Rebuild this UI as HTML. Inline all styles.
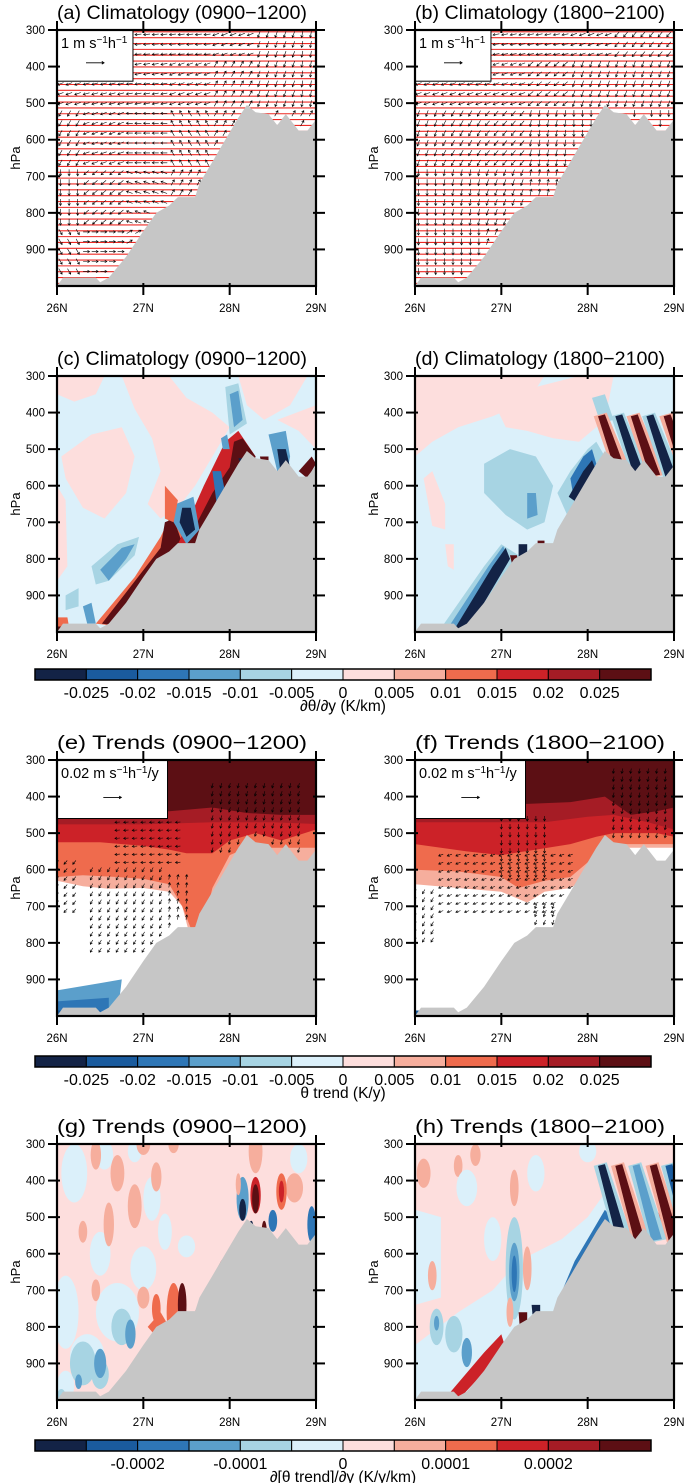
<!DOCTYPE html>
<html><head><meta charset="utf-8">
<style>
html,body{margin:0;padding:0;background:#fff;}
svg{display:block;font-family:"Liberation Sans",Arial,sans-serif;}
</style></head>
<body>
<svg id="fig" width="685" height="1483" viewBox="0 0 685 1483" xmlns="http://www.w3.org/2000/svg"></svg>
<script>
// ---------- data ----------
const levelColors = ['#132346','#1a5b9e','#2e76b6','#5b9fcb','#a7d4e3','#dbf0fa','#fddedd','#f6ae9d','#ef6b4d','#cc2228','#a51c25','#5c0f14'];
const cb1Labels = ['-0.025','-0.02','-0.015','-0.01','-0.005','0','0.005','0.01','0.015','0.02','0.025'];
const cb3Labels = ['','-0.0002','','-0.0001','','0','','0.0001','','0.0002',''];
const yTicks = [300,400,500,600,700,800,900];
const xTicks = [26,27,28,29];
const terrainLat = [26.0,26.07,26.45,26.5,26.6,26.8,27.0,27.15,27.3,27.4,27.45,27.6,27.65,27.8,27.95,28.1,28.2,28.3,28.45,28.55,28.65,28.8,28.9,29.0];
const terrainP   = [1000,977,977,990,977,920,850,800,780,757,757,757,720,660,600,540,505,525,530,560,530,575,575,545];
const arrowRowP = [300,450,600,750,900];
const arrowColLat = [26,26.5,27,27.5,28,28.5,29];
const arrowsA = [[190,190,185,185,200,250,260],[200,195,190,200,60,250,260],[240,200,180,120,60,60,60],[270,220,160,60,60,60,60],[300,0,30,45,45,45,45]];
const arrowsB = [[190,190,190,190,200,230,230],[200,200,200,220,250,250,250],[250,240,230,260,270,270,270],[270,260,250,80,80,80,80],[270,270,70,70,70,70,70]];
const shapesC = [
 [6,26.0,300,26.55,300,26.45,350,26.2,370,26.0,350],
 [6,26.75,300,27.3,300,27.5,360,27.8,400,28.0,440,27.8,520,27.6,600,27.4,660,27.2,690,27.05,650,27.2,560,27.1,470,26.9,390],
 [6,26.05,520,26.4,460,26.75,440,26.9,520,26.8,620,26.55,690,26.3,660,26.1,580],
 [6,26.0,600,26.1,640,26.12,820,26.0,860],
 [6,28.1,300,28.9,300,28.7,380,28.4,420,28.2,380],
 [6,28.55,420,29.0,380,29.0,500,28.8,450],
 [4,26.4,820,26.7,760,26.95,740,26.9,790,26.6,860,26.45,870],
 [3,26.5,830,26.75,770,26.9,760,26.8,800,26.6,860],
 [4,26.1,900,26.25,880,26.25,930,26.1,940],
 [3,26.3,930,26.4,920,26.45,977,26.35,977],
 [8,26.0,960,26.12,960,26.15,1000,26.0,1000],
 [11,26.0,985,26.07,985,26.07,1000,26.0,1000],
 [8,26.45,977,26.9,850,27.2,740,27.3,690,27.45,680,27.5,757,26.9,990],
 [11,26.52,977,27.2,770,27.25,700,27.35,690,27.45,757,26.9,990],
 [9,27.4,760,27.7,600,27.95,480,28.1,450,28.3,520,27.7,800],
 [11,27.5,757,27.8,620,28.0,550,28.05,480,28.15,470,28.3,520,28.0,700,27.7,800],
 [3,27.38,650,27.58,630,27.65,720,27.5,760,27.35,700],
 [0,27.45,660,27.55,660,27.6,720,27.5,740,27.42,700],
 [2,27.8,560,27.9,560,27.95,620,27.85,650],
 [8,27.25,600,27.4,640,27.35,700,27.25,690],
 [4,27.95,330,28.1,320,28.2,430,28.0,460],
 [3,28.0,350,28.1,340,28.15,420,28.05,440],
 [3,27.9,470,27.97,460,28.0,500,27.92,500],
 [0,28.1,525,28.3,525,28.3,550,28.15,550],
 [11,28.35,520,28.45,520,28.45,560,28.38,550],
 [3,28.45,460,28.65,450,28.7,520,28.65,580,28.55,560],
 [0,28.55,500,28.65,500,28.72,570,28.6,580],
 [11,28.8,560,28.95,520,29.0,540,28.9,580]
];
const shapesD = [
 [6,26.0,300,27.5,300,27.3,370,26.9,410,26.5,440,26.2,480,26.0,520],
 [6,26.95,390,27.4,330,27.9,300,28.3,300,28.2,420,27.9,480,27.6,470,27.3,450,27.05,440],
 [6,26.1,580,26.2,560,26.35,650,26.35,720,26.2,710],
 [6,26.35,760,26.45,760,26.45,830,26.38,820],
 [4,26.8,540,27.1,500,27.4,520,27.6,600,27.5,700,27.3,720,27.05,680,26.8,620],
 [3,27.3,620,27.4,620,27.42,680,27.3,690],
 [4,26.3,990,26.8,820,27.0,760,27.2,790,26.6,1000],
 [3,26.38,990,26.85,820,27.02,765,27.1,800,26.6,1000],
 [0,26.45,995,26.9,820,27.05,770,27.1,800,26.6,1000],
 [11,27.1,790,27.18,790,27.22,830,27.15,840],
 [0,27.2,760,27.3,760,27.3,810,27.2,810],
 [11,27.42,750,27.5,750,27.5,790,27.42,780],
 [4,27.65,620,27.8,560,28.0,500,28.1,480,28.2,520,27.8,700],
 [2,27.8,580,27.95,520,28.05,500,28.1,540,27.85,650],
 [0,27.78,630,27.95,560,28.05,530,28.1,560,27.9,650],
 [4,28.05,360,28.2,350,28.3,420,28.15,430]
];
const stripeLatD = [28.12,28.32,28.5,28.68,28.88];
const stripeLvlD = [11,0,11,0,11];
const stripeLatH = [28.12,28.32,28.52,28.72,28.9];
const stripeLvlH = [0,11,3,11,1];
const bandLvls = [7,8,9,10,11];
const bandsE = [
 [26,630,26.3,645,26.6,652,27.0,650,27.3,660,27.45,700,27.55,790,27.65,760,27.8,700,29,700],
 [26,620,26.3,615,26.7,620,27.0,625,27.3,640,27.45,700,27.55,760,27.7,750,27.8,650,28,560,28.2,540,29,540],
 [26,525,26.5,525,27.0,535,27.3,545,27.5,555,27.8,555,28.0,520,28.3,500,28.6,520,29,490],
 [26,476,27,476,27.8,470,28.0,470,28.5,470,29,475],
 [26,440,27.3,440,27.8,430,28.2,445,28.6,450,29,450]
];
const bandsF = [
 [26,640,26.5,650,27.0,660,27.3,690,27.5,660,27.8,650,28.0,620,28.3,540,29,540],
 [26,600,26.5,605,27.0,620,27.2,650,27.5,630,27.8,620,28.1,560,28.3,530,29,530],
 [26,530,26.6,550,27.0,560,27.4,545,27.8,530,28.1,510,28.3,500,28.8,500,29,510],
 [26,470,27.5,470,28.0,455,28.3,450,28.7,470,29,490],
 [26,420,27.3,420,27.8,415,28.2,400,28.5,450,28.8,440,29,430]
];
const shapesE = [
 [3,26,930,26.5,910,26.75,900,26.7,1000,26,1000],
 [2,26,960,26.6,950,26.6,1000,26,1000],
 [1,26,985,26.5,985,26.5,1000,26,1000]
];
const shapesF = [[1,26,985,26.12,985,26.12,1000,26,1000]];
const arrowRegE = [[26.7,27.5,470,600,185],[27.8,28.9,370,560,255],[26.0,26.3,580,720,230],[26.4,27.3,600,830,240],[27.3,27.6,620,780,80]];
const arrowRegF = [[26.3,27.9,560,730,200],[28.3,29.0,330,520,260],[26.0,26.3,660,800,240],[27.0,27.6,460,620,270],[27.4,27.8,700,800,250]];
const blobsG = [
 [26.2,380,0.15,80,5],[26.55,330,0.1,40,5],[26.5,600,0.12,60,5],[26.1,760,0.15,100,5],[26.35,880,0.2,60,5],[26.9,320,0.08,30,5],[27.1,450,0.1,60,5],[27.0,640,0.15,60,5],[27.25,540,0.08,50,5],[26.7,760,0.25,80,5],[28.3,330,0.06,30,5],[28.8,340,0.1,40,5],[26.1,960,0.1,40,5],[27.5,580,0.1,30,5],
 [26.45,330,0.06,40,7],[26.7,380,0.08,50,7],[27.0,300,0.08,30,7],[27.35,300,0.06,25,7],[26.6,520,0.06,60,7],[26.9,470,0.08,60,7],[27.15,390,0.06,40,7],[28.3,320,0.08,60,7],[28.75,420,0.1,40,7],[26.3,540,0.05,30,7],[26.45,700,0.05,30,7],[27.0,720,0.07,30,7],
 [26.3,900,0.15,60,4],[26.75,800,0.12,50,4],[26.05,990,0.05,20,4],[26.5,930,0.1,40,4],
 [26.5,900,0.07,40,3],[26.85,820,0.06,40,3],[26.25,950,0.04,20,3],
 [27.15,750,0.05,40,8],[27.35,760,0.08,80,8],[27.45,740,0.05,60,11],[27.2,810,0.03,30,0],
 [28.15,450,0.07,60,3],[28.15,480,0.04,30,0],[28.3,440,0.06,50,9],[28.3,450,0.04,40,11],[28.25,540,0.03,30,0],[28.4,540,0.03,30,11],[28.5,510,0.05,30,2],[28.6,430,0.06,50,8],[28.6,430,0.03,30,9],[28.95,520,0.05,50,2],[28.1,410,0.03,30,7]
];
const shapesG = [[9,27.6,757,27.9,620,28.05,580,28.1,600,27.8,760],[8,27.05,800,27.2,760,27.3,800,27.2,840]];
const shapesH = [
 [5,26.0,850,26.5,760,26.9,700,27.2,620,27.7,560,28.0,500,28.3,400,28.3,560,27.5,900,26.7,1000,26.0,1000],
 [5,26.0,480,26.3,500,26.3,720,26.0,740],
 [2,27.6,760,27.85,620,28.05,540,28.2,480,28.35,520,27.95,780],
 [0,27.75,760,27.9,620,28.1,540,28.2,510,28.3,520,27.95,760],
 [9,26.35,995,26.8,870,27.0,820,27.05,860,26.5,1000],
 [11,27.2,760,27.3,760,27.3,820,27.22,820],[0,27.35,740,27.45,740,27.45,790,27.37,790]
];
const blobsH = [
 [27.15,640,0.1,140,4],[27.15,650,0.06,80,3],[27.15,655,0.03,50,2],[26.45,820,0.1,50,4],[26.25,800,0.08,50,4],[26.25,790,0.03,20,3],[26.6,870,0.06,40,3],
 [26.1,380,0.08,40,7],[26.5,360,0.05,30,7],[26.7,330,0.06,30,7],[27.15,420,0.05,50,7],[26.2,660,0.05,40,7],[27.3,640,0.05,60,7],[27.1,760,0.04,40,7],
 [26.6,420,0.12,50,5],[27.4,380,0.1,50,5],[28.0,320,0.1,30,5],[26.9,560,0.1,60,5],[28.9,480,0.08,40,9]
];

// ---------- geometry ----------
const svg = document.getElementById('fig');
const NS = 'http://www.w3.org/2000/svg';
const colX = [57,415], W = 259, rowTop = [30,376,760,1144], H = 256;
function mk(tag, attrs, parent){const e=document.createElementNS(NS,tag);for(const k in attrs)e.setAttribute(k,attrs[k]);(parent||svg).appendChild(e);return e;}
function axes(c,r){const x0=colX[c],y0=rowTop[r];return{X:lat=>x0+(lat-26)/3*W,Y:p=>y0+(p-300)/700*H,x0,y0};}
function poly(ax,flat,g,fill,name){let pts=[];for(let i=0;i<flat.length;i+=2)pts.push(ax.X(flat[i]).toFixed(1)+','+ax.Y(flat[i+1]).toFixed(1));
 const e=mk('polygon',{points:pts.join(' '),fill:fill},g);
 
 return e;}
function shapes(ax,list,g){list.forEach(s=>poly(ax,s.slice(1),g,levelColors[s[0]],'contour-fill'));}
function blobs(ax,list,g){list.forEach(b=>{const e=mk('ellipse',{cx:ax.X(b[0]),cy:ax.Y(b[1]),rx:b[2]/3*W,ry:b[3]/700*H,fill:levelColors[b[4]]},g);
 
 });}
function stripes(ax,lats,lvls,g,p0,p1){lats.forEach((lt,i)=>{
 poly(ax,[lt-0.05,p0,lt+0.1,p0-10,lt+0.4,p1,lt+0.2,p1+10],g,levelColors[lvls[i]<6?4:7],'contour-fill');
 poly(ax,[lt,p0,lt+0.08,p0-5,lt+0.34,p1,lt+0.22,p1+5],g,levelColors[lvls[i]],'contour-fill');});}
function reverseBound(b){let out=[];for(let i=b.length-2;i>=0;i-=2)out.push(b[i],b[i+1]);return out;}
function bands(ax,list,g){list.forEach((b,i)=>{poly(ax,[26,300,29,300].concat(reverseBound(b)),g,levelColors[bandLvls[i]],'trend-band');});}
function arrow(x,y,ang,len,g,sw){const a=ang*Math.PI/180,dx=Math.cos(a)*len,dy=-Math.sin(a)*len;
 const x1=x-dx/2,y1=y-dy/2,x2=x+dx/2,y2=y+dy/2,h=2.2,ux=dx/len,uy=dy/len;
 const e=mk('path',{d:`M${x1.toFixed(1)},${y1.toFixed(1)}L${x2.toFixed(1)},${y2.toFixed(1)}M${(x2-ux*h-uy*h*0.6).toFixed(1)},${(y2-uy*h+ux*h*0.6).toFixed(1)}L${x2.toFixed(1)},${y2.toFixed(1)}L${(x2-ux*h+uy*h*0.6).toFixed(1)},${(y2-uy*h-ux*h*0.6).toFixed(1)}`,stroke:'#000','stroke-width':sw||0.7,fill:'none'},g);
 
 }
function terrainAt(lat){for(let i=1;i<terrainLat.length;i++){if(lat<=terrainLat[i]){const t=(lat-terrainLat[i-1])/(terrainLat[i]-terrainLat[i-1]||1);return terrainP[i-1]+t*(terrainP[i]-terrainP[i-1]);}}return terrainP[terrainP.length-1];}
function gridArrows(ax,grid,g,box){for(let p=312;p<995;p+=27){for(let lat=26.04;lat<29;lat+=0.1){
 if(p>terrainAt(lat)-8)continue; if(box&&lat<box[0]&&p<box[1])continue;
 let ri=0;arrowRowP.forEach((v,i)=>{if(Math.abs(v-p)<Math.abs(arrowRowP[ri]-p))ri=i;});
 let ci=0;arrowColLat.forEach((v,i)=>{if(Math.abs(v-lat)<Math.abs(arrowColLat[ci]-lat))ci=i;});
 arrow(ax.X(lat),ax.Y(p),grid[ri][ci],6.5,g,0.6);}}}
function regionArrows(ax,regs,g){regs.forEach(r=>{for(let p=r[2];p<=r[3];p+=22){for(let lat=r[0];lat<=r[1];lat+=0.1){
 if(p>terrainAt(lat)-8)continue;arrow(ax.X(lat),ax.Y(p),r[4],5,g,0.6);}}});}
function isentropes(ax,g){for(let p=305;p<1000;p+=16){const e=mk('line',{x1:ax.x0,x2:ax.x0+W,y1:ax.Y(p),y2:ax.Y(p),stroke:'#ee2a24','stroke-width':1.1},g);
 
 }}
function terrain(ax,g){let f=[];terrainLat.forEach((l,i)=>f.push(l,terrainP[i]));f.push(29,1000,26,1000);poly(ax,f,g,'#c6c6c6','terrain');}
function legendBox(ax,g,latR,pB,label){
 const r=mk('rect',{x:ax.x0,y:ax.y0,width:ax.X(latR)-ax.x0,height:ax.Y(pB)-ax.y0,fill:'#fff',stroke:'#000','stroke-width':1},g);
 
 
 const t=mk('text',{x:ax.x0+4,y:ax.y0+18,'font-size':14.5},g);t.innerHTML=label;
 
 
 const cx=(ax.x0+ax.X(latR))/2; arrow(cx,ax.y0+(ax.Y(pB)-ax.y0)*0.64,0,18,g,0.9);}
function frame(ax,letter,title){
 const g=mk('g',{});
 
 
 mk('rect',{x:ax.x0,y:ax.y0,width:W,height:H,fill:'none',stroke:'#000','stroke-width':2.2},g);
 yTicks.forEach(p=>{const y=ax.Y(p);
  mk('line',{x1:ax.x0-9,x2:ax.x0+3,y1:y,y2:y,stroke:'#000','stroke-width':2},g);
  mk('line',{x1:ax.x0+W-3,x2:ax.x0+W+9,y1:y,y2:y,stroke:'#000','stroke-width':2},g);
  const t=mk('text',{x:ax.x0-12,y:y+4,'font-size':11.5,'text-anchor':'end'},g);t.textContent=p;
  
  });
 xTicks.forEach(l=>{const x=ax.X(l);
  mk('line',{x1:x,x2:x,y1:ax.y0+H-3,y2:ax.y0+H+9,stroke:'#000','stroke-width':2},g);
  mk('line',{x1:x,x2:x,y1:ax.y0-9,y2:ax.y0+3,stroke:'#000','stroke-width':2},g);
  const t=mk('text',{x:x,y:ax.y0+H+26,'font-size':11.5,'text-anchor':'middle'},g);t.textContent=l+'N';
  
  });
 const h=mk('text',{x:0,y:0,'font-size':13,'text-anchor':'middle',transform:`translate(${ax.x0-37},${ax.y0+H/2}) rotate(-90)`},g);h.textContent='hPa';
 
 
 const t=mk('text',{x:ax.x0,y:ax.y0-11,'font-size':19.5,textLength:250,lengthAdjust:'spacingAndGlyphs'},g);t.textContent='('+letter+') '+title;
 
 }
function panel(c,r,letter,title,draw){const ax=axes(c,r);
 const cid='clip'+letter;const cp=mk('clipPath',{id:cid});mk('rect',{x:ax.x0,y:ax.y0,width:W,height:H},cp);
 const g=mk('g',{'clip-path':`url(#${cid})`});
 
 
 draw(ax,g);frame(ax,letter,title);}
function bg(ax,g,lvl){const e=mk('rect',{x:ax.x0,y:ax.y0,width:W,height:H,fill:lvl<0?'#fff':levelColors[lvl]},g);
 
 }
function colorbar(y,labels,title,name){const g=mk('g',{});
 
 
 const x0=35,w=(651-35)/12;
 levelColors.forEach((col,i)=>{const e=mk('rect',{x:x0+i*w,y:y,width:w,height:11,fill:col,stroke:'#000','stroke-width':1},g);
  
  });
 mk('rect',{x:x0,y:y,width:651-35,height:11,fill:'none',stroke:'#000','stroke-width':1.5},g);
 labels.forEach((l,i)=>{if(!l)return;const t=mk('text',{x:x0+(i+1)*w,y:y+29,'font-size':16,'text-anchor':'middle'},g);t.textContent=l;
  
  });
 const t=mk('text',{x:343,y:y+42,'font-size':15.5,'text-anchor':'middle'},g);t.textContent=title;
 
 }

// ---------- panels ----------
const unitA='1 m s<tspan dy="-5" font-size="10">−1</tspan><tspan dy="5">h</tspan><tspan dy="-5" font-size="10">−1</tspan>';
const unitE='0.02 m s<tspan dy="-5" font-size="10">−1</tspan><tspan dy="5">h</tspan><tspan dy="-5" font-size="10">−1</tspan><tspan dy="5">/y</tspan>';
panel(0,0,'a','Climatology (0900−1200)',(ax,g)=>{bg(ax,g,-1);isentropes(ax,g);gridArrows(ax,arrowsA,g,[26.9,440]);terrain(ax,g);legendBox(ax,g,26.88,440,unitA);});
panel(1,0,'b','Climatology (1800−2100)',(ax,g)=>{bg(ax,g,-1);isentropes(ax,g);gridArrows(ax,arrowsB,g,[26.9,440]);terrain(ax,g);legendBox(ax,g,26.88,440,unitA);});
panel(0,1,'c','Climatology (0900−1200)',(ax,g)=>{bg(ax,g,5);shapes(ax,shapesC,g);terrain(ax,g);});
panel(1,1,'d','Climatology (1800−2100)',(ax,g)=>{bg(ax,g,5);shapes(ax,shapesD,g);stripes(ax,stripeLatD,stripeLvlD,g,410,570);terrain(ax,g);});
panel(0,2,'e','Trends (0900−1200)',(ax,g)=>{bg(ax,g,-1);bands(ax,bandsE,g);shapes(ax,shapesE,g);regionArrows(ax,arrowRegE,g);terrain(ax,g);legendBox(ax,g,27.28,460,unitE);});
panel(1,2,'f','Trends (1800−2100)',(ax,g)=>{bg(ax,g,-1);bands(ax,bandsF,g);shapes(ax,shapesF,g);regionArrows(ax,arrowRegF,g);terrain(ax,g);legendBox(ax,g,27.28,460,unitE);});
panel(0,3,'g','Trends (0900−1200)',(ax,g)=>{bg(ax,g,6);blobs(ax,blobsG,g);shapes(ax,shapesG,g);terrain(ax,g);});
panel(1,3,'h','Trends (1800−2100)',(ax,g)=>{bg(ax,g,6);shapes(ax,shapesH.slice(0,2),g);blobs(ax,blobsH,g);shapes(ax,shapesH.slice(2),g);stripes(ax,stripeLatH,stripeLvlH,g,360,560);terrain(ax,g);});
colorbar(669,cb1Labels,'∂θ/∂y (K/km)','colorbar-dtheta-dy');
colorbar(1056,cb1Labels,'θ trend (K/y)','colorbar-theta-trend');
colorbar(1440,cb3Labels,'∂[θ trend]/∂y (K/y/km)','colorbar-trend-gradient');
</script>
</body></html>
